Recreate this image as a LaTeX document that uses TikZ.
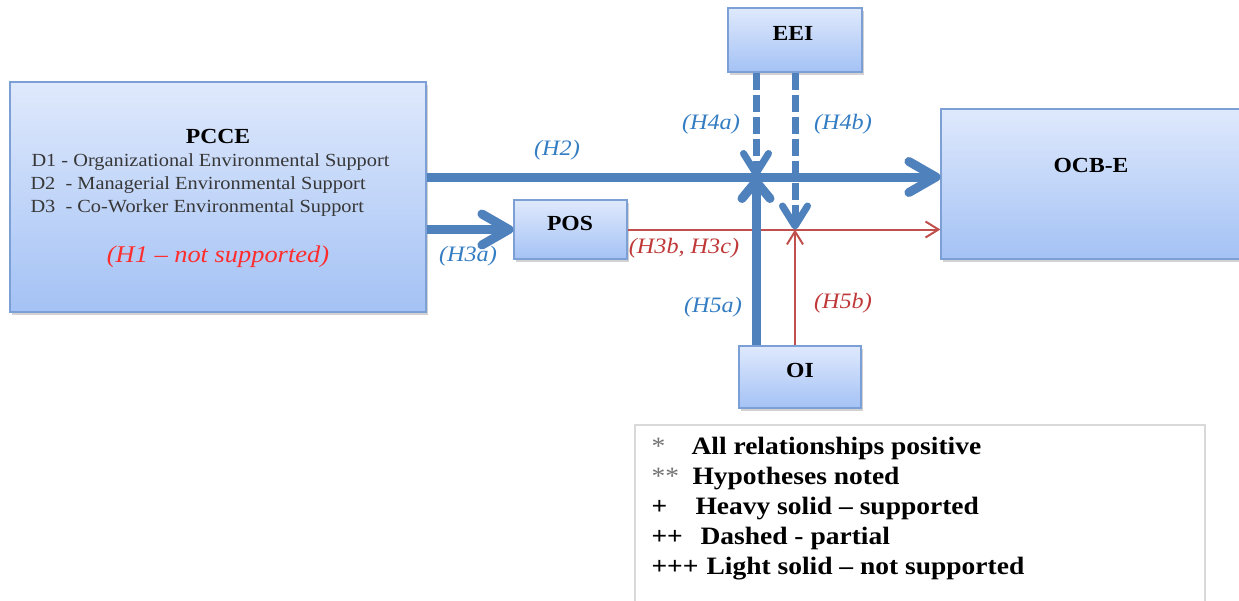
\documentclass[tikz,border=0pt]{standalone}
\usepackage{fontspec}
\setmainfont{Liberation Serif}[FakeStretch=1.1]
\usepackage{tikz}
\usetikzlibrary{arrows.meta,shadows}
\definecolor{BoxTop}{RGB}{223,233,252}
\definecolor{BoxBottom}{RGB}{164,194,245}
\definecolor{BoxEdge}{RGB}{124,160,214}
\definecolor{PathBlue}{RGB}{79,129,189}
\definecolor{PathRed}{RGB}{192,80,77}
\definecolor{LabelBlue}{RGB}{52,125,195}
\definecolor{LabelRed}{RGB}{192,57,57}
\definecolor{NoteRed}{RGB}{255,45,45}
\definecolor{DimText}{RGB}{55,55,55}

\begin{document}
\begin{tikzpicture}[x=1pt,y=-1pt,
  box/.style={draw=BoxEdge,line width=1.2pt,top color=BoxTop,bottom color=BoxBottom,inner sep=0pt,
    drop shadow={shadow xshift=2pt,shadow yshift=-2.5pt,opacity=0.35}},
  boxtitle/.style={font=\fontsize{21.5}{26}\selectfont\bfseries,anchor=base},
  dimtext/.style={font=\fontsize{18.5}{22}\selectfont,DimText,anchor=base west},
  hyplabel/.style={font=\fontsize{22}{26}\selectfont\itshape,LabelBlue},
  legendtext/.style={font=\fontsize{25}{30}\selectfont\bfseries,anchor=base west},
  heavyarrow/.style={line width=9pt,PathBlue,-{Straight Barb[length=27pt,width=31pt,round]}},
  dasharrow/.style={line width=7pt,PathBlue,dash pattern=on 17pt off 5pt,-{Straight Barb[length=20pt,width=25pt,round]}},
  lightarrow/.style={line width=2pt,PathRed,-{Straight Barb[length=13pt,width=16pt]}}]
  \path[use as bounding box,fill=white] (0,0) rectangle (1239,600);

  % constructs
  \node[box,minimum width=416pt,minimum height=230pt] (pcce) at (218,197) {};
  \node[box,minimum width=134pt,minimum height=64pt] (eei) at (795,40) {};
  \node[box,minimum width=113pt,minimum height=59pt] (pos) at (570.5,229.5) {};
  \node[box,minimum width=122pt,minimum height=62pt] (oi) at (800,377) {};
  \node[box,minimum width=309pt,minimum height=150pt] (ocbe) at (1095.5,184) {};

  \node[boxtitle] (pcceT) at (218,143) {PCCE};
  \node[boxtitle] (eeiT) at (793,40) {EEI};
  \node[boxtitle] (posT) at (570,230) {POS};
  \node[boxtitle] (oiT) at (800,377) {OI};
  \node[boxtitle] (ocbeT) at (1091,172) {OCB-E};

  \node[dimtext] (d1) at (28,166) {D1 - Organizational Environmental Support};
  \node[dimtext] (d2) at (27,189) {D2 \ - Managerial Environmental Support};
  \node[dimtext] (d3) at (27,212) {D3 \ - Co-Worker Environmental Support};
  \node[hyplabel,NoteRed,font=\fontsize{24}{28}\selectfont\itshape] (h1) at (218,257) {(H1 -- not supported)};

  % paths
  \coordinate (hub) at (756,177);
  \coordinate (hubr) at (795,229.5);
  \draw[heavyarrow] (pcce.east |- hub) -- (ocbe.west |- hub);
  \draw[heavyarrow] (pcce.east |- pos.west) -- (pos.west);
  \draw[lightarrow] (pos.east) -- (ocbe.west |- pos.east);
  \draw[lightarrow] (oi.north -| hubr) -- (hubr);
  \draw[heavyarrow,-{Straight Barb[length=17pt,width=28pt,round]}] (oi.north -| hub) -- (hub);
  \draw[dasharrow] (eei.south -| hub) -- (hub);
  \draw[dasharrow] (eei.south -| hubr) -- (hubr);

  \node[hyplabel] (lH2) at (557,150) {(H2)};
  \node[hyplabel] (lH3a) at (468,256) {(H3a)};
  \node[hyplabel,LabelRed] (lH3bc) at (684,248) {(H3b, H3c)};
  \node[hyplabel] (lH4a) at (711,124) {(H4a)};
  \node[hyplabel] (lH4b) at (843,124) {(H4b)};
  \node[hyplabel] (lH5a) at (713,307) {(H5a)};
  \node[hyplabel,LabelRed] (lH5b) at (843,303) {(H5b)};

  % legend
  \node[draw=black!15,line width=1.5pt,minimum width=570pt,minimum height=190pt,inner sep=0pt] (legend) at (920,520) {};
  \foreach \ly/\mk/\lx/\txt [count=\i] in {
    454/{\mdseries\color{black!55}*}/688/All relationships positive,
    484/{\mdseries\color{black!55}**}/689/Hypotheses noted,
    514/+/692/Heavy solid -- supported,
    544/++/697/Dashed - partial,
    574/+++/703/Light solid -- not supported}{
    \node[legendtext] (mark\i) at (648,\ly) {\mk};
    \node[legendtext] (note\i) at (\lx,\ly) {\txt};
  }
\end{tikzpicture}
\end{document}
